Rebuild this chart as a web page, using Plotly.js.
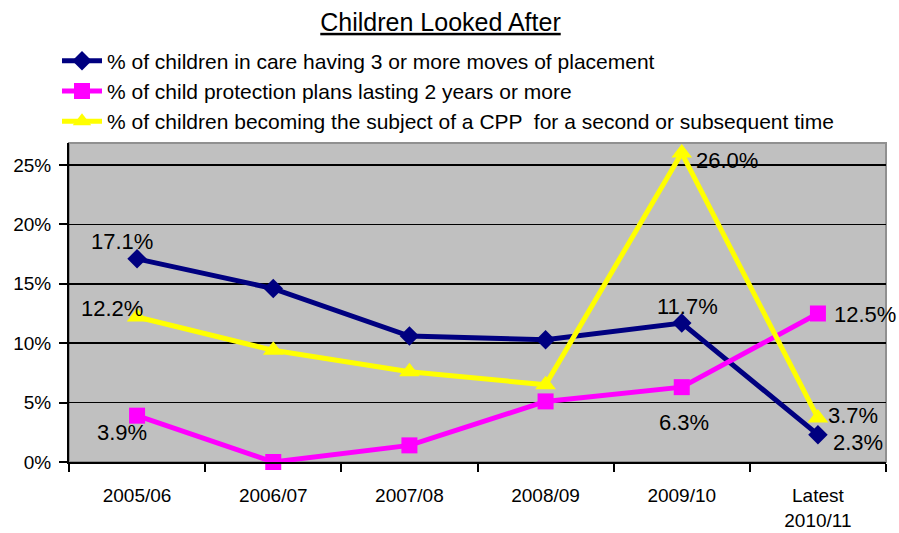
<!DOCTYPE html>
<html>
<head>
<meta charset="utf-8">
<script src="https://cdn.plot.ly/plotly-3.0.1.min.js"></script>
<style>html,body{margin:0;padding:0;background:#fff;}#chart{width:899px;height:533px;}</style>
</head>
<body>
<div id="chart"></div>
<script>
var categories = ['2005/06', '2006/07', '2007/08', '2008/09', '2009/10', 'Latest<br>2010/11'];
var movesOfPlacement = [17.1, 14.6, 10.6, 10.3, 11.7, 2.3];
var cppLasting2Years = [3.9, 0.0, 1.4, 5.1, 6.3, 12.5];
var cppSecondTime = [12.2, 9.4, 7.6, 6.5, 26.0, 3.7];
var yTickValues = [0, 5, 10, 15, 20, 25];
var yTickLabels = ['0%', '5%', '10%', '15%', '20%', '25%'];
var seriesNames = [
  '% of children in care having 3 or more moves of placement',
  '% of child protection plans lasting 2 years or more',
  '% of children becoming the subject of a CPP  for a second or subsequent time'
];
// which points carry a data label, and where the label sits relative to the point (pixels)
var movesLabels = [{i: 0, dx: -15, dy: 17}, {i: 4, dx: 6, dy: 16}, {i: 5, dx: 40, dy: -8}];
var lastingLabels = [{i: 0, dx: -15, dy: -17}, {i: 4, dx: 2, dy: -35}, {i: 5, dx: 47, dy: -1}];
var secondLabels = [{i: 0, dx: -25, dy: 9}, {i: 4, dx: 45, dy: -7}, {i: 5, dx: 35, dy: 3}];

var FONT = 'Liberation Sans, Arial, sans-serif';

function trace(name, values, color, symbol, size) {
  return {
    type: 'scatter', mode: 'lines+markers', name: name,
    x: categories, y: values,
    line: {color: color, width: 5},
    marker: {color: color, symbol: symbol, size: size},
    cliponaxis: false
  };
}

var traces = [
  trace(seriesNames[0], movesOfPlacement, '#000080', 'diamond', 15),
  trace(seriesNames[1], cppLasting2Years, '#ff00ff', 'square', 16),
  trace(seriesNames[2], cppSecondTime, '#ffff00', 'triangle-up', 18)
];

var annotations = [];
function addLabels(values, specs) {
  specs.forEach(function (s) {
    annotations.push({
      x: categories[s.i], y: values[s.i], xref: 'x', yref: 'y',
      text: values[s.i].toFixed(1) + '%', showarrow: false,
      xshift: s.dx, yshift: s.dy,
      font: {family: FONT, size: 22, color: '#000'}
    });
  });
}
addLabels(movesOfPlacement, movesLabels);
addLabels(cppLasting2Years, lastingLabels);
addLabels(cppSecondTime, secondLabels);

var layout = {
  width: 899, height: 533,
  margin: {l: 69, r: 13, t: 143, b: 71, autoexpand: false},
  paper_bgcolor: '#ffffff',
  plot_bgcolor: '#c0c0c0',
  font: {family: FONT, color: '#000'},
  showlegend: true,
  title: {
    text: 'Children Looked After',
    font: {family: FONT, size: 25, color: '#000', lineposition: 'under'},
    x: 0.49, xanchor: 'center', y: 0.975, yanchor: 'top', yref: 'container'
  },
  legend: {
    xref: 'container', yref: 'container',
    x: 0.0634, xanchor: 'left', y: 0.924, yanchor: 'top',
    font: {family: FONT, size: 21, color: '#000'},
    bgcolor: 'rgba(0,0,0,0)', itemwidth: 40, tracegroupgap: 0
  },
  xaxis: {
    type: 'category', automargin: false, range: [-0.5, 5.5],
    tickson: 'boundaries', ticks: 'outside', ticklen: 8, tickcolor: '#000', tickwidth: 2,
    showline: true, linecolor: '#000', linewidth: 2,
    showgrid: false, tickangle: 0,
    tickfont: {family: FONT, size: 19, color: '#000'},
    ticklabelstandoff: 15
  },
  yaxis: {
    range: [0, 26.85], automargin: false,
    tickmode: 'array', tickvals: yTickValues, ticktext: yTickLabels,
    ticks: 'outside', ticklen: 8, tickcolor: '#000', tickwidth: 2,
    showline: true, linecolor: '#000', linewidth: 2,
    showgrid: true, gridcolor: '#000', gridwidth: 1.5,
    zeroline: false,
    tickfont: {family: FONT, size: 19, color: '#000'},
    ticklabelstandoff: 4
  },
  shapes: [{
    type: 'rect', xref: 'paper', yref: 'paper', x0: 0, x1: 1, y0: 0, y1: 1,
    line: {color: '#909090', width: 2}, layer: 'below'
  }],
  annotations: annotations
};

Plotly.newPlot('chart', traces, layout, {displayModeBar: false, staticPlot: true});
</script>
</body>
</html>
